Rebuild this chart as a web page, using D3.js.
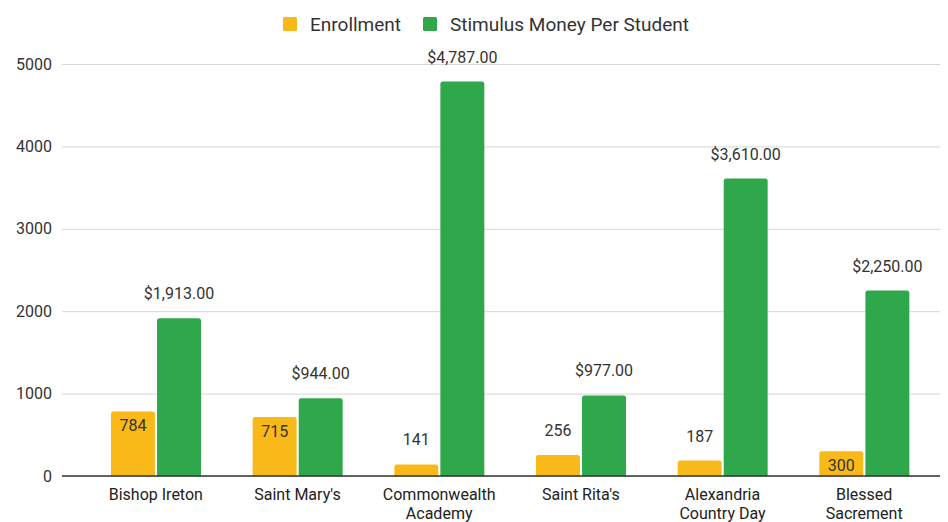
<!DOCTYPE html>
<html>
<head>
<meta charset="utf-8">
<script src="https://cdn.jsdelivr.net/npm/d3@7"></script>
<style>
  html, body { margin: 0; padding: 0; background: #fff; }
  svg { display: block; font-family: Roboto, "Noto Sans", Arial, sans-serif; }
</style>
</head>
<body>
<svg id="chart" width="948" height="522"></svg>
<script>
const categories = ["Bishop Ireton", "Saint Mary's", "Commonwealth Academy", "Saint Rita's", "Alexandria Country Day", "Blessed Sacrement"];
const seriesNames = ["Enrollment", "Stimulus Money Per Student"];
const enrollment = [784, 715, 141, 256, 187, 300];
const stimulus = [1913, 944, 4787, 977, 3610, 2250];
const yTicks = [0, 1000, 2000, 3000, 4000, 5000];
const colors = ["#f9b918", "#2ea84b"];

const svg = d3.select("#chart");
const W = 948, H = 522;
const plotLeft = 62, plotRight = 940, plotTop = 64, plotBottom = 476;

const y = d3.scaleLinear().domain([0, 5000]).range([plotBottom, plotTop]);
const x0 = d3.scaleBand().domain(categories).range([85, 935]).padding(0);
const x1 = d3.scaleBand().domain(seriesNames).range([26, 116]).paddingInner(0.045);
const color = d3.scaleOrdinal().domain(seriesNames).range(colors);

// grid + y axis
const yAxis = d3.axisLeft(y).tickValues(yTicks).tickFormat(d3.format("d"))
  .tickSize(-(plotRight - plotLeft)).tickPadding(10);
const gy = svg.append("g").attr("transform", `translate(${plotLeft},0)`).call(yAxis);
gy.select(".domain").remove();
gy.selectAll(".tick line").attr("stroke", "#d6d6d6").attr("stroke-width", 1);
gy.selectAll(".tick text").attr("fill", "#333").style("font-size", "16px")
  .style("font-family", "Roboto, Arial, sans-serif");

// data rows
const rows = categories.map((c, i) => ({ cat: c, values: [
  { key: seriesNames[0], value: enrollment[i], fmt: d3.format("d") },
  { key: seriesNames[1], value: stimulus[i], fmt: v => "$" + d3.format(",.2f")(v) }
]}));

function topRoundedRect(x, yTop, w, h, r) {
  r = Math.min(r, h, w / 2);
  return `M${x},${yTop + h}V${yTop + r}Q${x},${yTop} ${x + r},${yTop}H${x + w - r}Q${x + w},${yTop} ${x + w},${yTop + r}V${yTop + h}Z`;
}

const groups = svg.append("g").selectAll("g").data(rows).join("g")
  .attr("transform", d => `translate(${x0(d.cat)},0)`);

groups.selectAll("path").data(d => d.values).join("path")
  .attr("fill", d => color(d.key))
  .attr("d", d => topRoundedRect(x1(d.key), y(d.value), x1.bandwidth(), y(0) - y(d.value), 2.5));

groups.selectAll("text.val").data(d => d.values).join("text")
  .attr("class", "val")
  .attr("x", d => x1(d.key) + x1.bandwidth() / 2)
  .attr("y", d => {
    const inside = d.key === seriesNames[0] && d.value >= 300;
    return inside ? y(d.value) + 20 : y(d.value) - 19;
  })
  .attr("text-anchor", "middle")
  .attr("fill", "#333")
  .style("font-size", "16px")
  .text(d => d.fmt(d.value));

// baseline axis
svg.append("line")
  .attr("x1", plotLeft).attr("x2", plotRight)
  .attr("y1", y(0)).attr("y2", y(0))
  .attr("stroke", "#333").attr("stroke-width", 1.5);

// x axis labels
const xAxis = d3.axisBottom(x0).tickSize(0).tickPadding(0);
const gx = svg.append("g").attr("transform", `translate(0,${plotBottom})`).call(xAxis);
gx.select(".domain").remove();
gx.selectAll(".tick text").each(function(d) {
  const t = d3.select(this);
  t.text(null).attr("y", 0).attr("dy", null)
    .attr("fill", "#222").style("font-size", "16px")
    .style("font-family", "Roboto, Arial, sans-serif");
  let lines = [d];
  if (d.length > 14) {
    const k = d.indexOf(" ");
    lines = [d.slice(0, k), d.slice(k + 1)];
  }
  lines.forEach((ln, i) => {
    t.append("tspan").attr("x", 0).attr("y", 24 + i * 19).text(ln);
  });
});

// legend
const legend = svg.append("g");
const legendX = [283, 423];
seriesNames.forEach((s, i) => {
  legend.append("rect").attr("x", legendX[i]).attr("y", 17).attr("width", 14).attr("height", 14)
    .attr("rx", 1.5).attr("fill", color(s));
  legend.append("text").attr("x", legendX[i] + 27).attr("y", 31)
    .attr("fill", "#333").style("font-size", "19px").text(s);
});
</script>
</body>
</html>
